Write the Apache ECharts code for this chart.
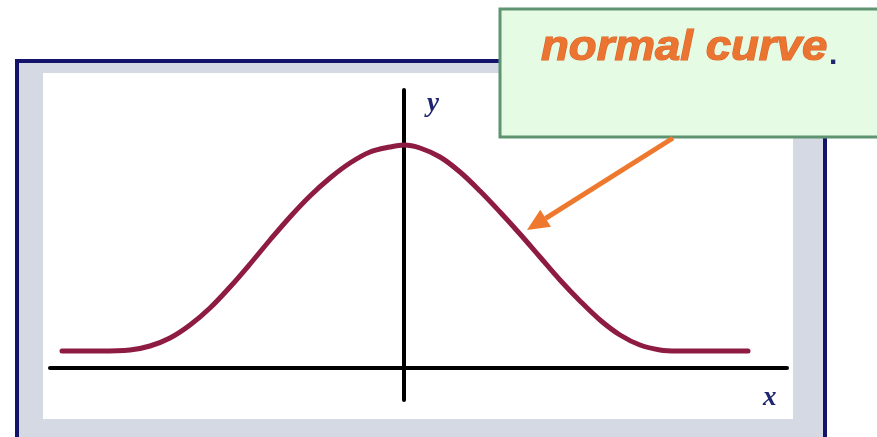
<!DOCTYPE html>
<html>
<head>
<meta charset="utf-8">
<script src="https://cdn.jsdelivr.net/npm/echarts@6/dist/echarts.min.js"></script>
<style>
  html, body { margin: 0; padding: 0; background: #fff; }
  #chart { width: 877px; height: 437px; }
</style>
</head>
<body>
<div id="chart"></div>
<script>
// curve (x in sd-like units, y in relative height)
const curveX = [-3.42, -3.04, -2.74, -2.54, -2.34, -2.14, -1.94, -1.74, -1.54, -1.34, -1.14, -0.94, -0.74, -0.54, -0.34, -0.14, 0,
  0.16, 0.36, 0.56, 0.76, 0.96, 1.16, 1.36, 1.56, 1.76, 1.96, 2.16, 2.36, 2.56, 2.73, 3.44]
const curveY = [0.17, 0.17, 0.18, 0.22, 0.30, 0.43, 0.60, 0.81, 1.04, 1.28, 1.51, 1.72, 1.90, 2.05, 2.16, 2.21, 2.23,
  2.20, 2.11, 1.96, 1.77, 1.56, 1.34, 1.11, 0.88, 0.67, 0.48, 0.33, 0.23, 0.18, 0.17, 0.17]
const axisNames = ['x', 'y']
const calloutText = 'normal curve'

const chart = echarts.init(document.getElementById('chart'))

const curveData = curveX.map((x, i) => [x, curveY[i]])

// arrow from callout to curve
const tail = [673, 138]
const tip = [527, 230]
const dx = tip[0] - tail[0], dy = tip[1] - tail[1]
const len = Math.sqrt(dx * dx + dy * dy)
const ux = dx / len, uy = dy / len
const headLen = 22, headHalf = 10
const base = [tip[0] - ux * headLen, tip[1] - uy * headLen]
const head = [
  tip,
  [base[0] + uy * headHalf, base[1] - ux * headHalf],
  [base[0] - uy * headHalf, base[1] + ux * headHalf]
]

const option = {
  animation: false,
  backgroundColor: '#ffffff',
  grid: {
    left: 50,
    right: 90,
    top: 90,
    bottom: 37
  },
  xAxis: {
    type: 'value',
    min: -3.54,
    max: 3.83,
    axisLine: {
      show: true,
      onZero: true,
      lineStyle: {color: '#000', width: 4, cap: 'round'}
    },
    axisTick: {show: false},
    axisLabel: {show: false},
    splitLine: {show: false}
  },
  yAxis: {
    type: 'value',
    min: -0.32,
    max: 2.78,
    axisLine: {
      show: true,
      onZero: true,
      lineStyle: {color: '#000', width: 4, cap: 'round'}
    },
    axisTick: {show: false},
    axisLabel: {show: false},
    splitLine: {show: false}
  },
  series: [{
    type: 'line',
    data: curveData,
    smooth: 0.35,
    showSymbol: false,
    symbol: 'none',
    z: 3,
    lineStyle: {color: '#8e1b42', width: 5, cap: 'round'}
  }],
  graphic: [
    // frame behind the chart
    {
      type: 'rect', z: -10, silent: true,
      shape: {x: 17, y: 61, width: 808, height: 390},
      style: {fill: '#d5d9e4', stroke: '#14146b', lineWidth: 4}
    },
    {
      type: 'rect', z: -9, silent: true,
      shape: {x: 43, y: 73, width: 750, height: 346},
      style: {fill: '#ffffff'}
    },
    // axis names
    {
      type: 'text', z: 10, left: 427, top: 91,
      style: {text: axisNames[1], fill: '#1f2670', font: 'italic bold 27px "Liberation Serif"'}
    },
    {
      type: 'text', z: 10, left: 763, top: 385,
      style: {text: axisNames[0], fill: '#1f2670', font: 'italic bold 27px "Liberation Serif"'}
    },
    // callout box
    {
      type: 'rect', z: 20, silent: true,
      shape: {x: 500, y: 9, width: 400, height: 128},
      style: {fill: '#e6fbe4', stroke: '#5e9470', lineWidth: 3}
    },
    {
      type: 'text', z: 21, x: 541, y: 27, scaleX: 1.06,
      style: {
        text: calloutText,
        fill: '#ea7430',
        stroke: '#d8652a',
        lineWidth: 1.2,
        font: 'italic bold 43px "Liberation Sans"'
      }
    },
    {
      type: 'text', z: 21, x: 829, y: 41,
      style: {text: '.', fill: '#1f2670', font: 'bold 30px "Liberation Sans"'}
    },
    // arrow
    {
      type: 'line', z: 22, silent: true,
      shape: {x1: tail[0], y1: tail[1], x2: base[0], y2: base[1]},
      style: {stroke: '#ee782e', lineWidth: 5}
    },
    {
      type: 'polygon', z: 22, silent: true,
      shape: {points: head},
      style: {fill: '#ee782e'}
    }
  ]
}

chart.setOption(option)
</script>
</body>
</html>
